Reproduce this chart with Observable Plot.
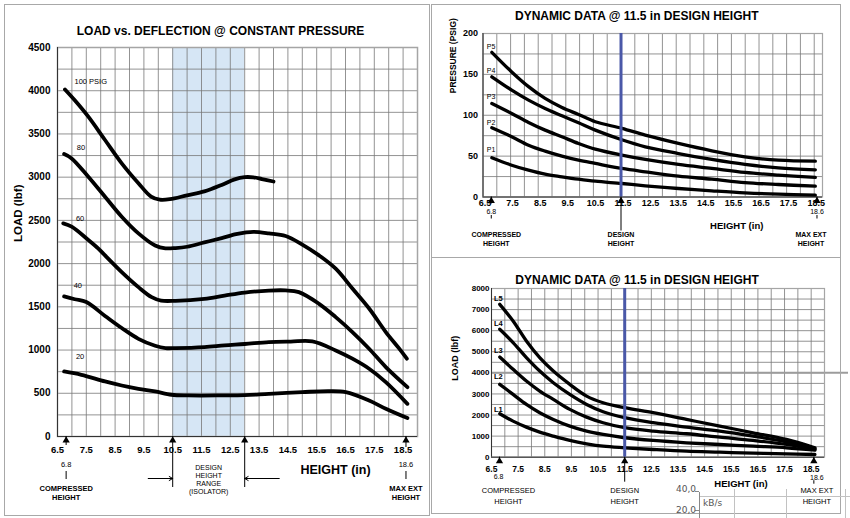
<!DOCTYPE html>
<html>
<head>
<meta charset="utf-8">
<script src="https://cdn.jsdelivr.net/npm/d3@7"></script>
<script src="https://cdn.jsdelivr.net/npm/@observablehq/plot@0.6"></script>
<style>
  html, body { margin: 0; padding: 0; background: #fff; }
  #page { position: relative; width: 850px; height: 518px; overflow: hidden; background: #fff; font-family: "Liberation Sans", Arial, sans-serif; }
  .slot { position: absolute; }
  .box { position: absolute; border: 1px solid #a8a8a8; box-sizing: border-box; pointer-events: none; }
  .ln { position: absolute; background: #c2c2c2; }
  .mon { position: absolute; font-family: "DejaVu Sans", sans-serif; font-size: 9px; color: #555; line-height: 1; white-space: nowrap; }
</style>
</head>
<body>
<div id="page">
  <div class="slot" id="left" style="left:0;top:0;"></div>
  <div class="slot" id="topRight" style="left:430px;top:0;"></div>
  <div class="slot" id="bottomRight" style="left:430px;top:258px;"></div>
  <div class="box" style="left:4px;top:4px;width:426px;height:512px;"></div>
  <div class="box" style="left:431px;top:4px;width:410px;height:254px;"></div>
  <div class="box" style="left:431px;top:257px;width:410px;height:257px;"></div>
  <!-- small network monitor overlay seen in the screenshot -->
  <div class="ln" style="left:699px;top:496px;width:151px;height:1px;"></div>
  <div class="ln" style="left:699px;top:492px;width:1px;height:26px;background:#888;"></div>
  <div class="ln" style="left:695px;top:491px;width:4px;height:1px;background:#888;"></div>
  <div class="ln" style="left:695px;top:510px;width:4px;height:1px;background:#888;"></div>
  <div class="ln" style="left:734px;top:489px;width:1px;height:29px;"></div>
  <div class="ln" style="left:786px;top:489px;width:1px;height:29px;"></div>
  <div class="ln" style="left:845px;top:489px;width:1px;height:29px;"></div>
  <div class="mon" style="left:676px;top:485px;">40,0</div>
  <div class="mon" style="left:703px;top:499px;">kB/s</div>
  <div class="mon" style="left:676px;top:506px;">20,0</div>
</div>
<script>
// ================= DATA =================
// Left chart: LOAD vs. DEFLECTION @ CONSTANT PRESSURE
const leftTitle = "LOAD vs. DEFLECTION @ CONSTANT PRESSURE";
const psigSeries = ["100 PSIG", "80", "60", "40", "20"];
const psigLabelHeight = [7.09, 7.17, 7.14, 7.06, 7.14];
const psigLabelLoad = [4101, 3341, 2520, 1740, 929];

const height100 = [6.76, 7.1, 7.57, 8.15, 8.73, 9.31, 9.75, 10.05, 10.4, 11.0, 11.6, 12.2, 12.65, 13.0, 13.3, 13.6, 14.0];
const load100   = [4015, 3890, 3700, 3430, 3160, 2930, 2775, 2740, 2745, 2790, 2835, 2910, 2975, 3000, 2998, 2978, 2950];
const height80 = [6.73, 6.99, 7.57, 8.15, 8.73, 9.31, 9.89, 10.25, 10.6, 11.0, 11.6, 12.2, 12.7, 13.0, 13.3, 13.84, 14.42, 15.0, 15.58, 16.16, 16.74, 17.32, 17.9, 18.36, 18.63];
const load80   = [3267, 3217, 3005, 2774, 2543, 2350, 2210, 2177, 2180, 2195, 2245, 2295, 2340, 2358, 2368, 2350, 2320, 2220, 2095, 1941, 1712, 1481, 1208, 1019, 900];
const height60 = [6.7, 6.99, 7.57, 7.91, 8.15, 8.73, 9.31, 9.77, 10.1, 10.6, 11.6, 12.3, 13.0, 13.84, 14.42, 14.88, 15.58, 16.16, 16.74, 17.32, 17.9, 18.65];
const load60   = [2466, 2428, 2274, 2177, 2095, 1902, 1728, 1612, 1572, 1570, 1593, 1630, 1665, 1688, 1690, 1670, 1535, 1381, 1208, 1015, 803, 571];
const height40 = [6.73, 7.1, 7.5, 8.15, 8.73, 9.31, 9.89, 10.25, 10.6, 11.6, 12.3, 13.0, 13.84, 14.6, 15.35, 16.16, 16.74, 17.32, 17.9, 18.65];
const load40   = [1620, 1588, 1555, 1395, 1255, 1130, 1050, 1023, 1023, 1035, 1055, 1070, 1092, 1098, 1100, 996, 900, 784, 629, 378];
const height20 = [6.73, 7.33, 8.15, 8.73, 9.31, 9.89, 10.46, 11.04, 12.2, 13.0, 13.84, 15.0, 15.93, 16.51, 17.32, 17.9, 18.65];
const load20   = [752, 714, 637, 590, 552, 521, 483, 475, 475, 478, 494, 514, 525, 514, 417, 321, 213];

const designRange = [10.5, 13.0];
const leftXTicks = [6.5, 7.5, 8.5, 9.5, 10.5, 11.5, 12.5, 13.5, 14.5, 15.5, 16.5, 17.5, 18.5];
const leftYTicks = [0, 500, 1000, 1500, 2000, 2500, 3000, 3500, 4000, 4500];

// Right charts: DYNAMIC DATA @ 11.5 in DESIGN HEIGHT
const dynTitle = "DYNAMIC DATA @ 11.5 in DESIGN HEIGHT";
const designHeight = 11.5;
const compressedHeight = 6.8;
const maxExtHeight = 18.6;

const pressureSeries = ["P5", "P4", "P3", "P2", "P1"];
const pressureHeights = [6.82, 7.54, 8.15, 8.75, 9.36, 9.96, 10.57, 11.53, 12.38, 13.58, 14.79, 15.99, 17.2, 18.54];
const pressureP5 = [177, 153, 135, 120.6, 109.5, 101, 92, 84, 75.6, 65.5, 56.5, 49.2, 45, 43.8];
const pressureP4 = [147, 130.7, 118.5, 108.3, 99.4, 90.8, 81.8, 70, 61.4, 53.2, 45.9, 39.8, 35.7, 33.3];
const pressureP3 = [114.4, 102.2, 91.2, 81.8, 73.7, 65.5, 58.5, 51.2, 45.9, 39.8, 34.9, 30, 26.7, 23.9];
const pressureP2 = [84.7, 73.7, 63.4, 56.1, 50, 45, 41, 34.9, 30.8, 25.5, 21.8, 17.7, 15.3, 13.2];
const pressureP1 = [48, 38.9, 32.8, 27.9, 24.7, 21.8, 19.3, 16.5, 13.7, 10.4, 7.6, 5.1, 3.4, 2.2];
const pressureLabelHeight = [6.64, 6.64, 6.64, 6.64, 6.64];
const pressureLabelValue = [184, 154, 122.6, 90.8, 57.3];
const pressXTicks = [6.5, 7.5, 8.5, 9.5, 10.5, 11.5, 12.5, 13.5, 14.5, 15.5, 16.5, 17.5, 18.5];
const pressYTicks = [0, 50, 100, 150, 200];

const loadSeries = ["L5", "L4", "L3", "L2", "L1"];
const loadHeights = [6.81, 7.31, 7.81, 8.31, 8.82, 9.44, 10.07, 10.69, 11.5, 12.57, 13.82, 15.07, 16.32, 17.57, 18.64];
const loadL5 = [7250, 6461, 5511, 4722, 4085, 3454, 2898, 2584, 2347, 2109, 1791, 1473, 1159, 841, 447];
const loadL4 = [6067, 5435, 4722, 4085, 3534, 2979, 2503, 2157, 1872, 1634, 1425, 1235, 998, 732, 413];
const loadL3 = [4751, 4166, 3610, 3135, 2741, 2266, 1900, 1634, 1397, 1235, 1112, 950, 793, 603, 366];
const loadL2 = [3454, 2979, 2503, 2109, 1791, 1473, 1235, 1078, 922, 793, 684, 603, 523, 447, 333];
const loadL1 = [2062, 1710, 1425, 1188, 998, 793, 637, 523, 447, 366, 285, 238, 190, 162, 128];
const loadLabelHeight = [6.59, 6.59, 6.59, 6.59, 6.59];
const loadLabelValue = [7539, 6337, 5036, 3800, 2266];
const loadXTicks = [6.5, 7.5, 8.5, 9.5, 10.5, 11.5, 12.5, 13.5, 14.5, 15.5, 16.5, 17.5, 18.5];
const loadYTicks = [0, 1000, 2000, 3000, 4000, 5000, 6000, 7000, 8000];

// ================= HELPERS =================
const FONT = '"Liberation Sans", Arial, Helvetica, sans-serif';
const GRID = {stroke: "#777", strokeOpacity: 1, strokeWidth: 0.8};
const fmt1 = d3.format(".1f");
function toRows(names, xs, ysList) {
  const out = [];
  names.forEach((name, k) => {
    const xArr = Array.isArray(xs[0]) ? xs[k] : xs;
    ysList[k].forEach((v, i) => out.push({series: name, h: xArr[i], v}));
  });
  return out;
}
function labelRows(names, hs, vs) {
  return names.map((n, i) => ({text: n, h: hs[i], v: vs[i]}));
}
function upArrow(xs, len) {
  return [
    Plot.ruleX(xs, {x: d => d, y1: 0, y2: 0, insetBottom: -len, stroke: "#000", strokeWidth: 1}),
    Plot.dot(xs, {x: d => d, y: 0, symbol: "triangle", r: 2.7, fill: "#000", stroke: null, dy: 4})
  ];
}
function caption(items, opts) {
  return Plot.text(items, {x: "h", y: 0, text: "text", lineAnchor: "bottom", fontWeight: "bold", fill: "#000", ...opts});
}

// ================= LEFT CHART =================
const leftRows = toRows(psigSeries,
  [height100, height80, height60, height40, height20],
  [load100, load80, load60, load40, load20]);

const leftPlot = Plot.plot({
  width: 430, height: 518,
  marginLeft: 57, marginRight: 13, marginTop: 47, marginBottom: 82,
  style: {fontFamily: FONT, background: "transparent", overflow: "visible", color: "#000"},
  x: {domain: [6.5, 19]},
  y: {domain: [0, 4500]},
  marks: [
    Plot.rect([designRange], {x1: d => d[0], x2: d => d[1], fill: "#d6e6f5"}),
    Plot.gridX(d3.range(6.5, 19.01, 0.5), GRID),
    Plot.gridY(d3.range(0, 4501, 250), GRID),
    Plot.frame({stroke: "#a5a5a5", strokeWidth: 1.5}),
    Plot.ruleY([0], {stroke: "#333"}),
    Plot.ruleX([6.5], {stroke: "#333"}),
    Plot.line(leftRows, {x: "h", y: "v", z: "series", stroke: "#000", strokeWidth: 3.8, curve: "catmull-rom", strokeLinecap: "round"}),
    Plot.text(labelRows(psigSeries, psigLabelHeight, psigLabelLoad), {x: "h", y: "v", text: "text", textAnchor: "start", fontSize: 7.5, fill: "#000"}),
    Plot.axisX(leftXTicks, {tickSize: 0, tickPadding: 10, tickFormat: fmt1, fontSize: 9.5, fontWeight: "bold", label: null}),
    Plot.axisY(leftYTicks, {tickSize: 0, tickPadding: 7, tickFormat: d => String(d), fontSize: 10, fontWeight: "bold", label: null}),
    Plot.text([leftTitle], {text: d => d, frameAnchor: "top", dx: -17, dy: -13, lineAnchor: "bottom", fontSize: 12, fontWeight: "bold", fill: "#000"}),
    Plot.text(["LOAD (lbf)"], {text: d => d, frameAnchor: "left", dx: -39, rotate: -90, fontSize: 11.5, fontWeight: "bold", fill: "#000"}),
    Plot.text(["HEIGHT (in)"], {text: d => d, frameAnchor: "bottom", dx: 98, dy: 37, lineAnchor: "bottom", fontSize: 12.5, fontWeight: "bold", fill: "#000"}),
    // annotations below the axis
    ...upArrow([compressedHeight], 9),
    ...upArrow([maxExtHeight], 11),
    ...upArrow(designRange, 51),
    Plot.ruleX([compressedHeight, maxExtHeight], {x: d => d, y1: 0, y2: 0, insetTop: 35, insetBottom: -43, stroke: "#000", strokeWidth: 1}),
    caption([{h: compressedHeight, text: "6.8"}, {h: maxExtHeight, text: "18.6"}], {dy: 30, fontSize: 7.5, fontWeight: "normal"}),
    caption([{h: compressedHeight, text: "COMPRESSED\nHEIGHT"}, {h: maxExtHeight, text: "MAX EXT\nHEIGHT"}], {dy: 63, fontSize: 7.5, lineHeight: 1.15}),
    caption([{h: d3.mean(designRange), text: "DESIGN\nHEIGHT\nRANGE\n(ISOLATOR)"}], {dy: 57, fontSize: 7, lineHeight: 1.12, fontWeight: "normal"}),
    Plot.arrow([{x1: 9.65, x2: designRange[0]}, {x1: 14.2, x2: designRange[1]}], {x1: "x1", x2: "x2", y1: 0, y2: 0, dy: 42, headLength: 6, stroke: "#000", strokeWidth: 1})
  ]
});
document.getElementById("left").append(leftPlot);

// ================= TOP RIGHT CHART =================
const pressRows = toRows(pressureSeries, pressureHeights, [pressureP5, pressureP4, pressureP3, pressureP2, pressureP1]);
const trPlot = Plot.plot({
  width: 420, height: 258,
  marginLeft: 52.5, marginRight: 28, marginTop: 33, marginBottom: 61.5,
  style: {fontFamily: FONT, background: "transparent", overflow: "visible", color: "#000"},
  x: {domain: [6.5, 18.8]},
  y: {domain: [0, 200]},
  marks: [
    Plot.gridX(d3.range(6.5, 18.51, 0.5), GRID),
    Plot.gridY(d3.range(0, 201, 25), GRID),
    Plot.frame({stroke: "#a5a5a5", strokeWidth: 1.2}),
    Plot.ruleY([0], {stroke: "#333"}),
    Plot.ruleX([6.5], {stroke: "#333"}),
    Plot.line(pressRows, {x: "h", y: "v", z: "series", stroke: "#000", strokeWidth: 3.3, curve: "catmull-rom", strokeLinecap: "round"}),
    Plot.ruleX([designHeight], {x: d => d, stroke: "#4a58a8", strokeWidth: 3}),
    Plot.text(labelRows(pressureSeries, pressureLabelHeight, pressureLabelValue), {x: "h", y: "v", text: "text", textAnchor: "start", fontSize: 7, fill: "#000"}),
    Plot.axisX(pressXTicks, {tickSize: 0, tickPadding: 2.5, dx: 2, tickFormat: fmt1, fontSize: 9, fontWeight: "bold", label: null}),
    Plot.axisY(pressYTicks, {tickSize: 0, tickPadding: 5, tickFormat: d => String(d), fontSize: 9, fontWeight: "bold", label: null}),
    Plot.text([dynTitle], {text: d => d, frameAnchor: "top", dx: -16, dy: -13.5, lineAnchor: "bottom", fontSize: 12, fontWeight: "bold", fill: "#000"}),
    Plot.text(["PRESSURE (PSIG)"], {text: d => d, frameAnchor: "left", dx: -30, dy: -22, rotate: -90, fontSize: 8.5, fontWeight: "bold", fill: "#000"}),
    Plot.text(["HEIGHT (in)"], {text: d => d, frameAnchor: "bottom", dx: 84, dy: 32, lineAnchor: "bottom", fontSize: 9.5, fontWeight: "bold", fill: "#000"}),
    ...upArrow([compressedHeight], 7),
    ...upArrow([maxExtHeight], 6),
    ...upArrow([designHeight], 34),
    Plot.ruleX([compressedHeight, maxExtHeight], {x: d => d, y1: 0, y2: 0, insetTop: 18.5, insetBottom: -22, stroke: "#000", strokeWidth: 1}),
    caption([{h: compressedHeight, text: "6.8"}, {h: maxExtHeight, text: "18.6"}], {dy: 17, fontSize: 7, fontWeight: "normal"}),
    caption([{h: compressedHeight, text: "COMPRESSED\nHEIGHT"}], {dx: 5, dy: 48.5, fontSize: 7, lineHeight: 1.19}),
    caption([{h: designHeight, text: "DESIGN\nHEIGHT"}], {dy: 48.5, fontSize: 7, lineHeight: 1.19}),
    caption([{h: maxExtHeight, text: "MAX EXT\nHEIGHT"}], {dx: -6, dy: 48.5, fontSize: 7, lineHeight: 1.19})
  ]
});
document.getElementById("topRight").append(trPlot);

// ================= BOTTOM RIGHT CHART =================
const loadRows = toRows(loadSeries, loadHeights, [loadL5, loadL4, loadL3, loadL2, loadL1]);
const brPlot = Plot.plot({
  width: 420, height: 260,
  marginLeft: 61, marginRight: 26, marginTop: 30, marginBottom: 61.3,
  style: {fontFamily: FONT, background: "transparent", overflow: "visible", color: "#000"},
  x: {domain: [6.5, 19]},
  y: {domain: [0, 8000]},
  marks: [
    Plot.gridX(d3.range(6.5, 19.01, 0.5), GRID),
    Plot.gridY(d3.range(0, 8001, 500), GRID),
    Plot.ruleY([4000], {y: d => d, stroke: "#9c9c9c", strokeWidth: 2, insetRight: -24}),
    Plot.frame({stroke: "#a5a5a5", strokeWidth: 1.2}),
    Plot.ruleY([0], {stroke: "#333"}),
    Plot.ruleX([6.5], {stroke: "#333"}),
    Plot.line(loadRows, {x: "h", y: "v", z: "series", stroke: "#000", strokeWidth: 3.3, curve: "catmull-rom", strokeLinecap: "round"}),
    Plot.ruleX([designHeight], {x: d => d, stroke: "#4a58a8", strokeWidth: 3}),
    Plot.text(labelRows(loadSeries, loadLabelHeight, loadLabelValue), {x: "h", y: "v", text: "text", textAnchor: "start", fontSize: 7.5, fontWeight: "bold", fill: "#000"}),
    Plot.axisX(loadXTicks, {tickSize: 0, tickPadding: 8.5, tickFormat: fmt1, fontSize: 8.5, fontWeight: "bold", label: null}),
    Plot.axisY(loadYTicks, {tickSize: 0, tickPadding: 2, tickFormat: d => String(d), fontSize: 8, fontWeight: "bold", label: null}),
    Plot.text([dynTitle], {text: d => d, frameAnchor: "top", dx: -21, dy: -5, lineAnchor: "bottom", fontSize: 12, fontWeight: "bold", fill: "#000"}),
    Plot.text(["LOAD (lbf)"], {text: d => d, frameAnchor: "left", dx: -36, dy: 8, rotate: -90, fontSize: 9, fontWeight: "bold", fill: "#000"}),
    Plot.text(["HEIGHT (in)"], {text: d => d, frameAnchor: "bottom", dx: 83, dy: 30, lineAnchor: "bottom", fontSize: 9.5, fontWeight: "bold", fill: "#000"}),
    ...upArrow([compressedHeight], 4),
    ...upArrow([maxExtHeight], 4),
    ...upArrow([designHeight], 25),
    Plot.ruleX([maxExtHeight], {x: d => d, y1: 0, y2: 0, insetTop: 23.5, insetBottom: -27, stroke: "#000", strokeWidth: 1}),
    caption([{h: compressedHeight, text: "6.8"}], {dx: -1, dy: 22, fontSize: 7, fontWeight: "normal"}),
    caption([{h: maxExtHeight, text: "18.6"}], {dx: 3, dy: 23, fontSize: 7, fontWeight: "normal"}),
    caption([{h: compressedHeight, text: "COMPRESSED\nHEIGHT"}], {dx: 9, dy: 46.6, fontSize: 7.5, lineHeight: 1.42, fontWeight: "normal"}),
    caption([{h: designHeight, text: "DESIGN\nHEIGHT"}], {dy: 46.6, fontSize: 7.5, lineHeight: 1.42, fontWeight: "normal"}),
    caption([{h: maxExtHeight, text: "MAX EXT\nHEIGHT"}], {dx: 3, dy: 46.6, fontSize: 7.5, lineHeight: 1.42, fontWeight: "normal"})
  ]
});
document.getElementById("bottomRight").append(brPlot);
</script>
</body>
</html>
